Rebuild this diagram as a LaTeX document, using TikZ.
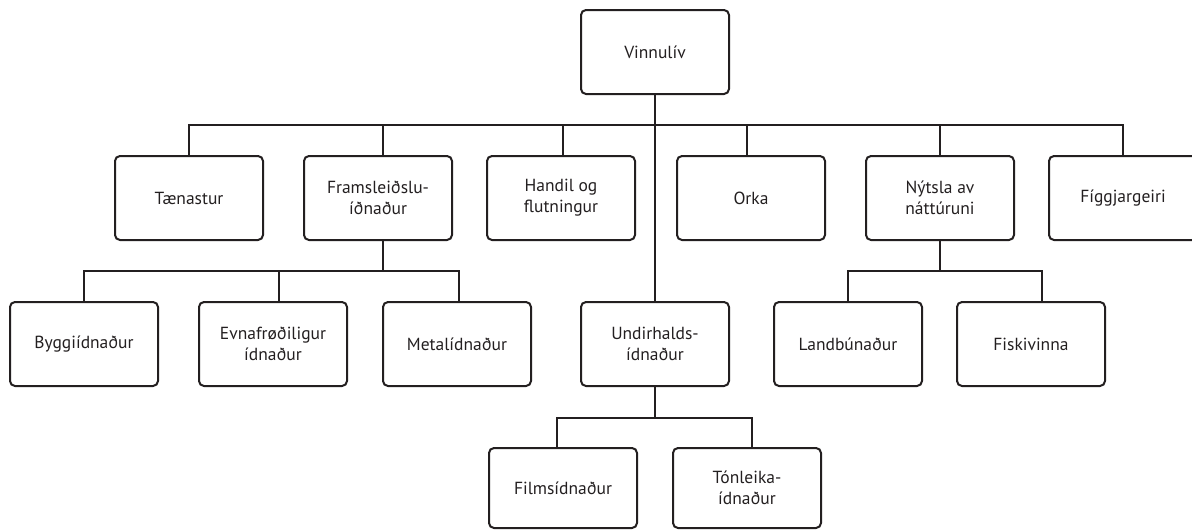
\documentclass[tikz,border=0pt]{standalone}
\usepackage{fontspec}
\setmainfont{PT Sans}
\definecolor{ink}{HTML}{231F20}
\begin{document}
\begin{tikzpicture}[x=1pt,y=-1pt,
  box/.style={draw=ink, line width=2pt, rounded corners=5pt, minimum width=148pt, minimum height=84pt, inner sep=0pt, align=center, text=ink, font=\fontsize{17.5}{21}\selectfont},
  conn/.style={draw=ink, line width=2pt}]
\useasboundingbox (0,0) rectangle (1192,530);
% root
\node[box] (root) at (655,52) {Vinnulív};
% row 1
\node[box] (tae) at (189,198) {Tænastur};
\node[box] (fra) at (378,198) {Framsleiðslu-\\íðnaður};
\node[box] (han) at (561,198) {Handil og\\flutningur};
\node[box] (ork) at (751,198) {Orka};
\node[box] (nyt) at (940,198) {Nýtsla av\\náttúruni};
\node[box] (fig) at (1123,198) {Fíggjargeiri};
% row 2
\node[box] (byg) at (84,344) {Byggiídnaður};
\node[box] (evn) at (273,344) {Evnafrøðiligur\\ídnaður};
\node[box] (met) at (457,344) {Metalídnaður};
\node[box] (und) at (655,344) {Undirhalds-\\ídnaður};
\node[box] (lan) at (848,344) {Landbúnaður};
\node[box] (fis) at (1031,344) {Fiskivinna};
% row 3
\node[box, minimum height=80pt] (fil) at (563,488) {Filmsídnaður};
\node[box, minimum height=80pt] (ton) at (747,488) {Tónleika-\\ídnaður};
% junction levels
\coordinate (j1) at (655,125);
\coordinate (j2) at (383,271);
\coordinate (j3) at (940,271);
\coordinate (j4) at (655,418);
% root to row 1
\draw[conn] (root.south) -- (und.north);
\draw[conn] (tae.north) -- (tae.north |- j1) -- (fig.north |- j1) -- (fig.north);
\draw[conn] ([xshift=5]fra.north) -- ([xshift=5]fra.north |- j1);
\draw[conn] ([xshift=2]han.north) -- ([xshift=2]han.north |- j1);
\draw[conn] ([xshift=-4]ork.north) -- ([xshift=-4]ork.north |- j1);
\draw[conn] (nyt.north) -- (nyt.north |- j1);
% Framsleiðsluíðnaður
\draw[conn] ([xshift=5]fra.south) -- (j2);
\draw[conn] (byg.north) -- (byg.north |- j2) -- ([xshift=2]met.north |- j2) -- ([xshift=2]met.north);
\draw[conn] ([xshift=6]evn.north) -- ([xshift=6]evn.north |- j2);
% Nýtsla av náttúruni
\draw[conn] (nyt.south) -- (nyt.south |- j3);
\draw[conn] (lan.north) -- (lan.north |- j3) -- ([xshift=11]fis.north |- j3) -- ([xshift=11]fis.north);
% Undirhaldsídnaður
\draw[conn] (und.south) -- (j4);
\draw[conn] ([xshift=-6]fil.north) -- ([xshift=-6]fil.north |- j4) -- ([xshift=5]ton.north |- j4) -- ([xshift=5]ton.north);
\end{tikzpicture}
\end{document}
